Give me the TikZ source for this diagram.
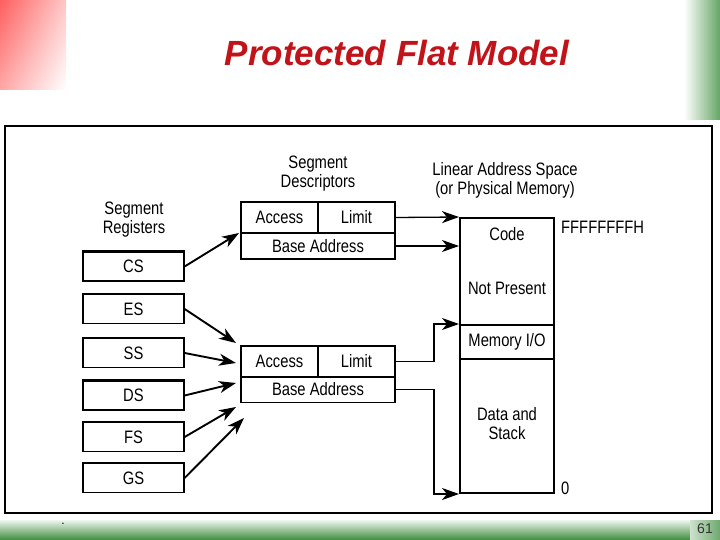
\documentclass[tikz,border=0pt]{standalone}
\usepackage{fontspec}
\setmainfont{Liberation Sans}
\newfontfamily\nar[FakeStretch=0.82]{Liberation Sans}
\usetikzlibrary{arrows.meta,shadings}
\definecolor{titlered}{RGB}{192,20,26}
\definecolor{barg}{RGB}{60,140,60}
\definecolor{stripg}{RGB}{100,165,100}
\definecolor{redfade}{RGB}{255,95,95}
\tikzset{
  lbl/.style={font=\nar\fontsize{18}{19}\selectfont, inner sep=0pt, align=center},
  reg/.style={draw, line width=1.3pt, minimum width=101pt, minimum height=29pt, inner sep=0pt, font=\nar\fontsize{18}{19}\selectfont},
  desc/.style={draw, line width=1.2pt, minimum height=31pt, inner sep=0pt, font=\nar\fontsize{18}{19}\selectfont},
  mem/.style={draw, line width=2pt, minimum width=94pt, inner sep=0pt, font=\nar\fontsize{18}{19}\selectfont, align=center},
  tip/.style={-{Stealth[length=17pt,width=12pt,inset=5pt]}},
  regarrow/.style={tip, line width=1.9pt},
  link/.style={tip, line width=1.3pt},
}
\begin{document}
\begin{tikzpicture}[x=1pt,y=-1pt]
\useasboundingbox (0,0) rectangle (720,540);
% decorations
\shade[upper left=redfade, lower left=redfade!55!white, upper right=redfade!35!white, lower right=white] (0,0) rectangle (66,90);
\shade[left color=white, right color=stripg] (684,0) rectangle (720,120);
\shade[top color=barg!8!white, bottom color=barg] (0,520) rectangle (690,540);
\shade[left color=barg!25!white, right color=barg!75!white] (690,520) rectangle (720,540);
\node[font=\fontsize{14}{14}\selectfont, text=black!80, inner sep=0pt] (pg) at (705,529) {61};
\node[font=\fontsize{12}{12}\selectfont, inner sep=0pt, anchor=base] (dot) at (63,524) {.};
% title
\node[font=\bfseries\itshape\fontsize{35}{36}\selectfont, text=titlered, inner sep=0pt, anchor=base] (title) at (397,66) {Protected Flat Model};
% frame
\draw[line width=2pt] (5,126) rectangle (712,513);
% labels
\node[lbl] (lreg) at (134,220) {Segment\\Registers};
\node[lbl] (ldesc) at (318,174) {Segment\\Descriptors};
\node[lbl] (llin) at (505,180) {Linear Address Space\\(or Physical Memory)};
% registers
\foreach \n/\y in {CS/266.5, ES/309, SS/353, DS/395.5, FS/437, GS/478}{
  \node[reg] (\n) at (133.5,\y) {\n};
  \draw[line width=2.6pt] (\n.north west) -- (\n.north east);
}
% descriptors
\node[desc, minimum width=77pt] (d1acc) at (279.5,217.5) {Access};
\node[desc, minimum width=77pt] (d1lim) at (356.5,217.5) {Limit};
\node[desc, minimum width=154pt, minimum height=26pt] (d1base) at (318,246) {Base Address};
\node[desc, minimum width=77pt] (d2acc) at (279.5,361.5) {Access};
\node[desc, minimum width=77pt] (d2lim) at (356.5,361.5) {Limit};
\node[desc, minimum width=154pt, minimum height=26pt] (d2base) at (318,389.5) {Base Address};
% memory
\node[mem, minimum height=107pt] (mtop) at (507,271.5) {};
\node[mem, minimum height=34pt] (mio) at (507,342) {Memory I/O};
\node[mem, minimum height=134pt] (mdata) at (507,426) {};
\node[lbl] (tcode) at (507,234) {Code};
\node[lbl] (tnp) at (507,288) {Not Present};
\node[lbl] (tdata) at (507,423.5) {Data and\\Stack};
\node[lbl, anchor=west] (tff) at (561,227) {FFFFFFFFH};
\node[lbl, anchor=west] (tzero) at (561,488) {0};
% descriptor to memory links
\draw[link] (d1lim.east) -- (mtop.north west);
\draw[link] (d1base.east) -- (d1base.east -| mtop.west);
\draw[link] (d2lim.east) -- (434,361.5) |- (mio.north west);
\draw[link] (d2base.east) -- (434,389.5) |- (mdata.south west);
% register arrows
\coordinate (eCS) at (239,233);
\coordinate (eES) at (236,343);
\coordinate (eSS) at (236,363);
\coordinate (eDS) at (236,383);
\coordinate (eFS) at (236,407);
\coordinate (eGS) at (244,418);
\foreach \n in {CS,ES,SS,DS,FS,GS}{
  \draw[regarrow] (\n.east) -- (e\n);
}
\end{tikzpicture}
\end{document}
